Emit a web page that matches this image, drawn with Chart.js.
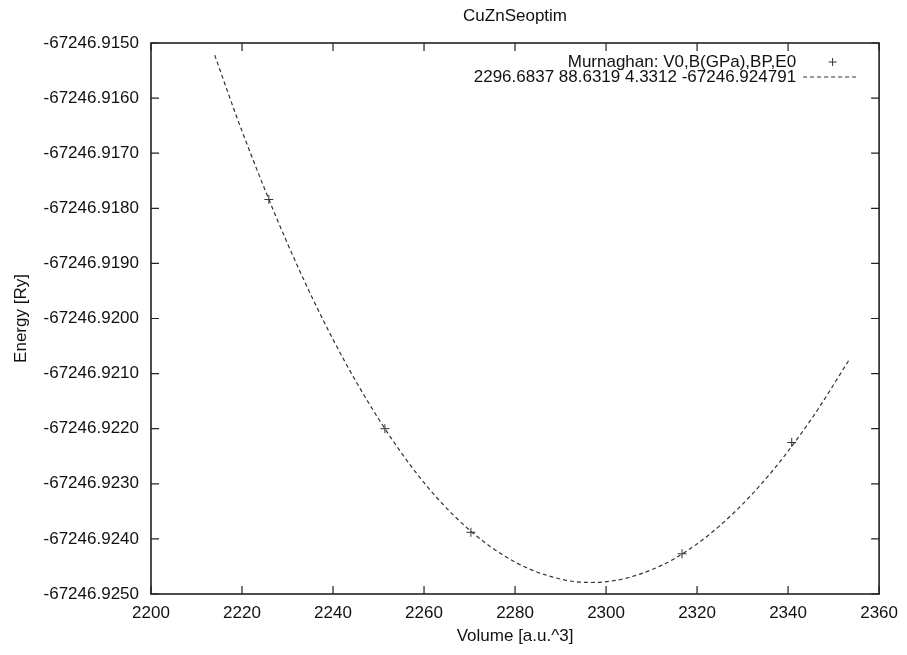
<!DOCTYPE html>
<html>
<head>
<meta charset="utf-8">
<title>CuZnSeoptim</title>
<script src="https://cdn.jsdelivr.net/npm/chart.js@4.4.1/dist/chart.umd.min.js"></script>
<style>
  body { margin: 0; background: #fff; }
  #wrap { width: 907px; height: 655px; }
</style>
</head>
<body>
<div id="wrap"><canvas id="eos" width="907" height="655"></canvas></div>
<script>
// computed total energies
const volumes = [2225.9, 2251.4, 2270.3, 2316.7, 2340.8];
const energies = [-67246.91784, -67246.92200, -67246.92388, -67246.92427, -67246.92225];

// Murnaghan fit curve
const fitVolumes = [2214, 2220, 2230, 2240, 2250, 2260, 2270, 2280, 2290, 2296.6837,
  2305, 2315, 2325, 2335, 2345, 2353.5];
const fitEnergies = [-67246.91522, -67246.91660, -67246.91864, -67246.92038, -67246.92182,
  -67246.92298, -67246.92384, -67246.92442, -67246.92473, -67246.924791,
  -67246.92470, -67246.92436, -67246.92376, -67246.92292, -67246.92184, -67246.92074];

const xTicks = [2200, 2220, 2240, 2260, 2280, 2300, 2320, 2340, 2360];
const yTicks = [-67246.9250, -67246.9240, -67246.9230, -67246.9220, -67246.9210,
  -67246.9200, -67246.9190, -67246.9180, -67246.9170, -67246.9160, -67246.9150];

const pointsLabel = 'Murnaghan: V0,B(GPa),BP,E0';
const fitLabel = '2296.6837 88.6319 4.3312 -67246.924791';

const FONT = 'Liberation Sans, Arial, sans-serif';
const INK = '#111';

// border, inward ticks on all four sides, and the key in the top right
const gnuplotFrame = {
  id: 'gnuplotFrame',
  afterDatasetsDraw(chart) {
    const { ctx, chartArea: a, scales: { x, y } } = chart;
    ctx.save();
    ctx.strokeStyle = '#222';
    ctx.lineWidth = 1.2;
    ctx.beginPath();
    xTicks.forEach(v => {
      const px = x.getPixelForValue(v);
      ctx.moveTo(px, a.bottom); ctx.lineTo(px, a.bottom - 8);
      ctx.moveTo(px, a.top); ctx.lineTo(px, a.top + 8);
    });
    yTicks.forEach(v => {
      const py = y.getPixelForValue(v);
      ctx.moveTo(a.left, py); ctx.lineTo(a.left + 8, py);
      ctx.moveTo(a.right, py); ctx.lineTo(a.right - 8, py);
    });
    ctx.stroke();
    ctx.lineWidth = 1.6;
    ctx.strokeRect(a.left, a.top, a.right - a.left, a.bottom - a.top);

    // key
    const textRight = a.right - 83;
    const sampleL = a.right - 76, sampleR = a.right - 21;
    const row1 = a.top + 19, row2 = a.top + 34;
    ctx.font = '17px ' + FONT;
    ctx.fillStyle = INK;
    ctx.textAlign = 'right';
    ctx.textBaseline = 'middle';
    ctx.fillText(chart.data.datasets[1].label, textRight, row1);
    ctx.fillText(chart.data.datasets[0].label, textRight, row2);

    const mx = (sampleL + sampleR) / 2 + 2;
    ctx.strokeStyle = '#333';
    ctx.lineWidth = 1;
    ctx.beginPath();
    ctx.moveTo(mx - 4, row1); ctx.lineTo(mx + 4, row1);
    ctx.moveTo(mx, row1 - 4); ctx.lineTo(mx, row1 + 4);
    ctx.stroke();

    ctx.lineWidth = 1.2;
    ctx.setLineDash([4, 3]);
    ctx.beginPath();
    ctx.moveTo(sampleL, row2); ctx.lineTo(sampleR, row2);
    ctx.stroke();
    ctx.restore();
  }
};

new Chart(document.getElementById('eos'), {
  type: 'scatter',
  data: {
    datasets: [
      {
        type: 'line',
        label: fitLabel,
        data: fitVolumes.map((v, i) => ({ x: v, y: fitEnergies[i] })),
        borderColor: '#333',
        borderWidth: 1.2,
        borderDash: [4, 3],
        cubicInterpolationMode: 'monotone',
        pointRadius: 0,
        fill: false
      },
      {
        label: pointsLabel,
        data: volumes.map((v, i) => ({ x: v, y: energies[i] })),
        pointStyle: 'cross',
        pointRadius: 4.5,
        borderColor: '#333',
        borderWidth: 1,
        backgroundColor: '#333'
      }
    ]
  },
  options: {
    responsive: false,
    animation: false,
    layout: { padding: { top: 0, right: 25, left: 0, bottom: 0 } },
    plugins: {
      legend: { display: false },
      tooltip: { enabled: false },
      title: {
        display: true,
        text: 'CuZnSeoptim',
        fullSize: false,
        color: INK,
        font: { family: FONT, size: 17, weight: 'normal' },
        padding: { top: 6, bottom: 16.6 }
      }
    },
    scales: {
      x: {
        type: 'linear',
        min: 2200,
        max: 2360,
        afterBuildTicks: s => { s.ticks = xTicks.map(v => ({ value: v })); },
        afterFit: s => { s.height = 61; },
        grid: { display: false, drawTicks: false },
        border: { display: false },
        ticks: {
          padding: 9,
          color: INK,
          font: { family: FONT, size: 17 },
          maxRotation: 0,
          callback: v => String(v)
        },
        title: {
          display: true,
          text: 'Volume [a.u.^3]',
          color: INK,
          font: { family: FONT, size: 17 },
          padding: { top: 0, bottom: 8 }
        }
      },
      y: {
        type: 'linear',
        min: -67246.925,
        max: -67246.915,
        afterBuildTicks: s => { s.ticks = yTicks.map(v => ({ value: v })); },
        afterFit: s => { s.width = 151; },
        grid: { display: false, drawTicks: false },
        border: { display: false },
        ticks: {
          padding: 12,
          color: INK,
          font: { family: FONT, size: 17 },
          callback: v => v.toFixed(4)
        },
        title: {
          display: true,
          text: 'Energy [Ry]',
          color: INK,
          font: { family: FONT, size: 17 },
          padding: { top: 11, bottom: 0 }
        }
      }
    }
  },
  plugins: [gnuplotFrame]
});
</script>
</body>
</html>
